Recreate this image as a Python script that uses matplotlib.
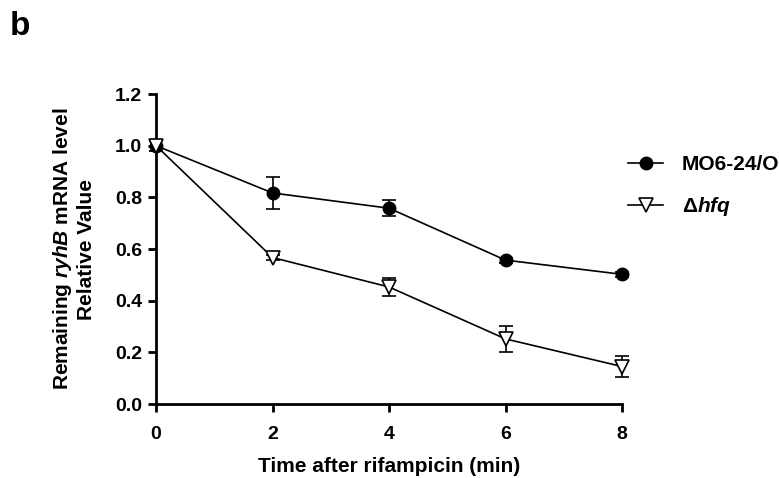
import matplotlib
matplotlib.use("Agg")
import matplotlib.pyplot as plt
from matplotlib.lines import Line2D

plt.rcParams["font.family"] = ["Liberation Sans", "DejaVu Sans"]
plt.rcParams["font.weight"] = "bold"
plt.rcParams["mathtext.fontset"] = "custom"
plt.rcParams["mathtext.rm"] = "Liberation Sans:bold"
plt.rcParams["mathtext.it"] = "Liberation Sans:bold:italic"
plt.rcParams["mathtext.bf"] = "Liberation Sans:bold"

# Data
time_min = [0, 2, 4, 6, 8]
wt_mean = [1.0, 0.817, 0.758, 0.557, 0.502]
wt_err = [0.02, 0.063, 0.03, 0.01, 0.01]
hfq_mean = [1.0, 0.567, 0.453, 0.252, 0.145]
hfq_err = [0.02, 0.01, 0.033, 0.05, 0.042]
wt_label = "MO6-24/O"
hfq_label = "Δ$\\mathit{hfq}$"

fig = plt.figure(figsize=(7.79, 4.78), dpi=100)
ax = fig.add_axes([0.2003, 0.1548, 0.5982, 0.6485])

ax.errorbar(time_min, wt_mean, yerr=wt_err, color="black", lw=1.2,
            marker="o", ms=9, mfc="black", mec="black",
            capsize=5, capthick=1.2, elinewidth=1.2, clip_on=False, zorder=3)
ax.errorbar(time_min, hfq_mean, yerr=hfq_err, color="black", lw=1.2,
            marker="v", ms=10, mfc="white", mec="black", mew=1.2,
            capsize=5, capthick=1.2, elinewidth=1.2, clip_on=False, zorder=3)

ax.set_xlim(0, 8)
ax.set_ylim(0, 1.2)
ax.set_xticks([0, 2, 4, 6, 8])
ax.set_yticks([0.0, 0.2, 0.4, 0.6, 0.8, 1.0, 1.2])
ax.set_yticklabels(["0.0", "0.2", "0.4", "0.6", "0.8", "1.0", "1.2"])

for side in ["top", "right"]:
    ax.spines[side].set_visible(False)
for side in ["left", "bottom"]:
    ax.spines[side].set_linewidth(2)
ax.tick_params(direction="out", length=6, width=2, labelsize=14)
ax.tick_params(axis="y", pad=4)
ax.tick_params(axis="x", pad=10)

ax.set_xlabel("Time after rifampicin (min)", fontsize=15, fontweight="bold", labelpad=10)
ax.set_ylabel("Remaining $\\mathit{ryhB}$ mRNA level\nRelative Value",
              fontsize=15, fontweight="bold", labelpad=14, linespacing=1.15)

handles = [
    Line2D([], [], color="black", lw=1.2, marker="o", ms=9, mfc="black"),
    Line2D([], [], color="black", lw=1.2, marker="v", ms=10, mfc="white", mew=1.2),
]
ax.legend(handles, [wt_label, hfq_label], loc="center left",
          bbox_to_anchor=(0.806, 0.609), bbox_transform=fig.transFigure,
          frameon=False, fontsize=15, handlelength=1.7, handletextpad=0.9,
          labelspacing=1.0, borderaxespad=0, borderpad=0)

fig.text(0.012, 0.976, "b", fontsize=24, fontweight="bold", va="top")

fig.savefig("out.png", dpi=100)
